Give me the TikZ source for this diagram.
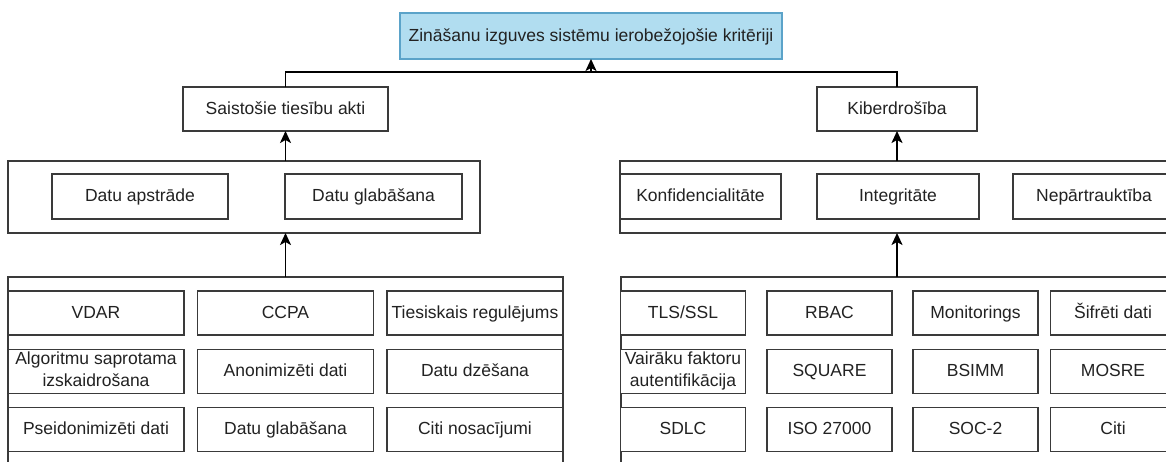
\documentclass[tikz,border=0pt]{standalone}
\usepackage{fontspec}
\setmainfont{Liberation Sans}
\usetikzlibrary{arrows.meta}
\definecolor{edge}{HTML}{3A3A3A}
\definecolor{ink}{HTML}{222222}
\definecolor{topfill}{HTML}{B1DDF0}
\definecolor{topline}{HTML}{5BA3C9}
\tikzset{
  box/.style={draw=edge, line width=1.4pt, fill=white, inner sep=0pt, outer sep=0pt,
    text=ink, align=center, font=\fontsize{17.5}{22}\selectfont,
    execute at begin node={\rule{0pt}{14.5pt}},
    execute at end node={\rule[-4.5pt]{0pt}{4.5pt}}},
  frame/.style={draw=edge, line width=1.4pt, inner sep=0pt, outer sep=0pt},
  link/.style={draw=black, line width=1.9pt},
  conn/.style={link, -{Stealth[length=12pt,width=11pt,inset=3pt]}},
}
\begin{document}
\begin{tikzpicture}[x=1pt,y=-1pt]
\useasboundingbox (0,0) rectangle (1166,461);
\clip (0,0) rectangle (1166,461);

% root criterion
\node[box, fill=topfill, draw=topline, minimum width=382pt, minimum height=46pt] (top) at (591,36)
  {Zināšanu izguves sistēmu ierobežojošie kritēriji};

% second level
\node[box, minimum width=205pt, minimum height=44pt] (sa) at (285.5,109) {Saistošie tiesību akti};
\node[box, minimum width=160pt, minimum height=44pt] (kb) at (897,109) {Kiberdrošība};

% legal group
\node[frame, minimum width=472pt, minimum height=72pt] (c2l) at (244,197) {};
\node[box, minimum width=176pt, minimum height=45pt] (da) at (140,196.5) {Datu apstrāde};
\node[box, minimum width=177pt, minimum height=45pt] (dg) at (373.5,196.5) {Datu glabāšana};

% security group
\node[frame, minimum width=580pt, minimum height=72pt] (c2r) at (910,197) {};
\node[box, minimum width=161pt, minimum height=45pt] (kf) at (700.5,196.5) {Konfidencialitāte};
\node[box, minimum width=162pt, minimum height=45pt] (ig) at (898,196.5) {Integritāte};
\node[box, minimum width=162pt, minimum height=45pt] (np) at (1094,196.5) {Nepārtrauktība};

% legal requirements
\node[frame, minimum width=555pt, minimum height=223pt] (c3l) at (285.5,388.5) {};
\tikzset{lcell/.style={box, minimum width=176pt, minimum height=44pt}}
\node[lcell] (l11) at (96,313)      {VDAR};
\node[lcell] (l12) at (285.5,313)   {CCPA};
\node[lcell] (l13) at (475,313)     {Tiesiskais regulējums};
\node[lcell] (l21) at (96,371.5)    {Algoritmu saprotama\\izskaidrošana};
\node[lcell] (l22) at (285.5,371.5) {Anonimizēti dati};
\node[lcell] (l23) at (475,371.5)   {Datu dzēšana};
\node[lcell] (l31) at (96,429.5)    {Pseidonimizēti dati};
\node[lcell] (l32) at (285.5,429.5) {Datu glabāšana};
\node[lcell] (l33) at (475,429.5)   {Citi nosacījumi};

% security measures
\node[frame, minimum width=579pt, minimum height=223pt] (c3r) at (910.5,388.5) {};
\tikzset{rcell/.style={box, minimum width=125pt, minimum height=44pt}}
\node[rcell] (r11) at (683,313)      {TLS/SSL};
\node[rcell] (r12) at (829.5,313)    {RBAC};
\node[rcell] (r13) at (975.5,313)    {Monitorings};
\node[rcell] (r14) at (1113,313)     {Šifrēti dati};
\node[rcell] (r21) at (683,371.5)    {Vairāku faktoru\\autentifikācija};
\node[rcell] (r22) at (829.5,371.5)  {SQUARE};
\node[rcell] (r23) at (975.5,371.5)  {BSIMM};
\node[rcell] (r24) at (1113,371.5)   {MOSRE};
\node[rcell] (r31) at (683,429.5)    {SDLC};
\node[rcell] (r32) at (829.5,429.5)  {ISO 27000};
\node[rcell] (r33) at (975.5,429.5)  {SOC-2};
\node[rcell] (r34) at (1113,429.5)   {Citi};

% connectors
\coordinate (j) at (591,72);
\draw[link] (sa.north) |- (j);
\draw[link] (kb.north) |- (j);
\draw[conn] (j) -- (top.south);

\draw[conn] (sa.south |- c2l.north) -- (sa.south);
\draw[conn] (kb.south |- c2r.north) -- (kb.south);
\draw[conn] (c3l.north) -- (c3l.north |- c2l.south);
\draw[conn] (kb.south |- c3r.north) -- (kb.south |- c2r.south);
\end{tikzpicture}
\end{document}
